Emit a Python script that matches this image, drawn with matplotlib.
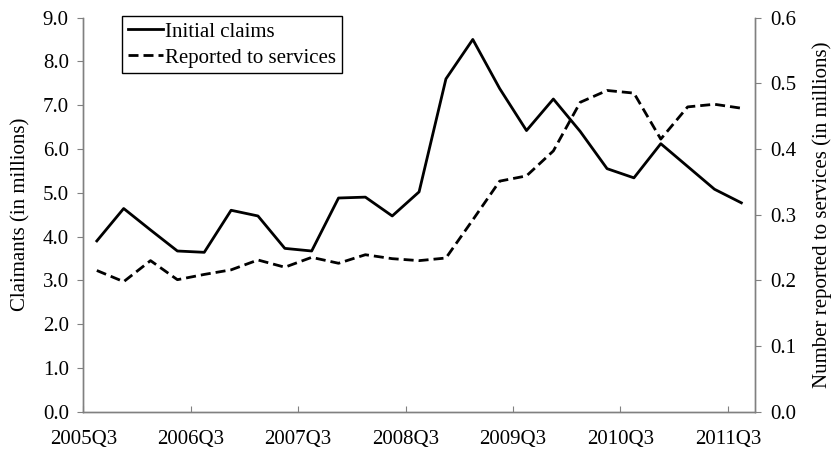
import matplotlib
matplotlib.use("Agg")
import matplotlib.pyplot as plt
import numpy as np

# ── Data ─────────────────────────────────────────────────────────
quarters = [f"{y}Q{q}" for y in range(2005, 2012) for q in (1, 2, 3, 4)][2:27]
tick_labels = ["2005Q3", "2006Q3", "2007Q3", "2008Q3", "2009Q3", "2010Q3", "2011Q3"]

initial_claims = [3.90, 4.64, 4.15, 3.67, 3.64, 4.60, 4.47, 3.73, 3.67, 4.88,
                  4.90, 4.47, 5.02, 7.60, 8.50, 7.38, 6.42, 7.14, 6.40, 5.55,
                  5.34, 6.12, 5.60, 5.08, 4.77]
reported = [0.215, 0.198, 0.230, 0.201, 0.209, 0.216, 0.231, 0.220, 0.235, 0.226,
            0.239, 0.233, 0.230, 0.234, 0.292, 0.351, 0.359, 0.397, 0.471, 0.489,
            0.485, 0.415, 0.464, 0.468, 0.462]

plt.rcParams['font.family'] = ['Liberation Serif', 'DejaVu Serif']
plt.rcParams['font.size'] = 15

gray = '#808080'
x = np.arange(len(quarters))

fig = plt.figure(figsize=(8.34, 4.5), dpi=100)
ax = fig.add_axes([0.1, 0.085, 0.805, 0.876])
ax2 = ax.twinx()

l1, = ax.plot(x, initial_claims, color='black', lw=2.0, label='Initial claims')
l2, = ax2.plot(x, reported, color='black', lw=2.0, ls=(0, (3.6, 1.8)),
               label='Reported to services')

ax.set_xlim(-0.5, len(quarters) - 0.5)
ax.set_ylim(0, 9)
ax2.set_ylim(0, 0.6)
ax.set_yticks(np.arange(0, 9.5, 1.0))
ax.set_yticklabels([f"{v:.1f}" for v in np.arange(0, 9.5, 1.0)])
ax2.set_yticks(np.arange(0, 0.65, 0.1))
ax2.set_yticklabels([f"{v:.1f}" for v in np.arange(0, 0.65, 0.1)])

tick_pos = [quarters.index(t) - 0.5 for t in tick_labels]
ax.set_xticks(tick_pos)
ax.set_xticklabels(tick_labels)

for a in (ax, ax2):
    a.spines['top'].set_visible(False)
    for s in ('left', 'right', 'bottom'):
        a.spines[s].set_color(gray)
        a.spines[s].set_linewidth(1.0)
ax.tick_params(axis='y', direction='out', color=gray, length=4.5, pad=6)
ax2.tick_params(axis='y', direction='out', color=gray, length=4.5, pad=7)
ax.tick_params(axis='x', direction='in', color=gray, length=4, pad=13)

ax.set_ylabel("Claimants (in millions)", labelpad=9)
ax2.set_ylabel("Number reported to services (in millions)", labelpad=11)

leg = ax.legend(handles=[l1, l2], loc='upper left', bbox_to_anchor=(0.057, 1.003),
                frameon=True, fancybox=False, edgecolor='black', framealpha=1,
                handlelength=1.7, handletextpad=0.12, borderpad=0.28,
                labelspacing=0.3, borderaxespad=0)
leg.get_frame().set_linewidth(1.0)

fig.savefig("out.png", dpi=100)
